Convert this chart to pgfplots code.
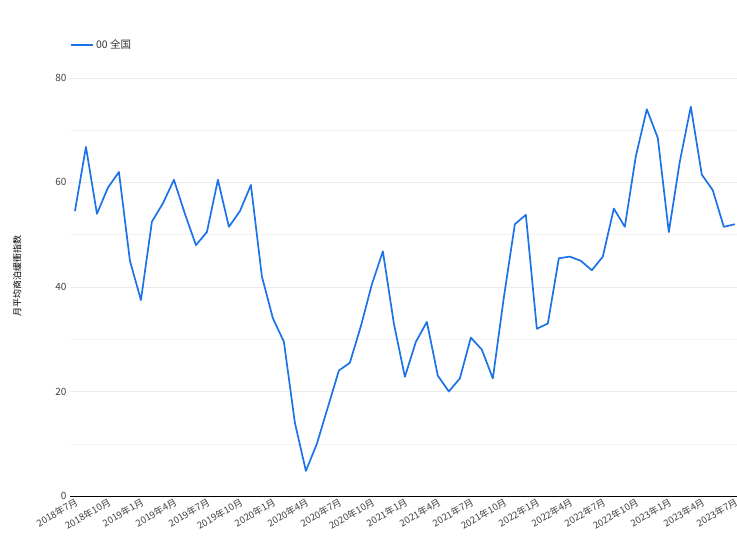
\documentclass[border=0pt]{standalone}
\usepackage{pgfplots}
\pgfplotsset{compat=1.18}
\usepackage{fontspec}
\setmainfont{Noto Sans CJK SC}
\begin{document}
\begin{tikzpicture}
\begin{axis}[
  width=667pt, height=439pt, scale only axis,
  at={(0,0)}, anchor=south west,
  xmin=-0.45, xmax=60.2, ymin=0, ymax=84,
  enlargelimits=false,
  xtick={0,3,...,60},
  xticklabels={2018年7月,2018年10月,2019年1月,2019年4月,2019年7月,2019年10月,2020年1月,2020年4月,2020年7月,2020年10月,2021年1月,2021年4月,2021年7月,2021年10月,2022年1月,2022年4月,2022年7月,2022年10月,2023年1月,2023年4月,2023年7月},
  xticklabel style={rotate=30, anchor=north east, font=\fontsize{9.5}{10}\selectfont, text=black!75, inner sep=1pt},
  ytick={0,20,40,60,80}, minor ytick={10,30,50,70},
  yticklabel style={font=\fontsize{10}{11}\selectfont, text=black!75},
  /pgf/number format/assume math mode=true,
  ymajorgrids, yminorgrids,
  major grid style={black!8}, minor grid style={black!5},
  axis line style={draw=none},
  axis x line*=bottom, x axis line style={draw=black},
  axis y line*=left,
  tick style={draw=none},
  ylabel={月平均商泊缓衝指数}, ylabel style={font=\fontsize{9}{10}\selectfont, at={(-45pt,0.5)}, anchor=south},
  legend style={at={(0,1)}, anchor=west, yshift=12pt, draw=none, font=\fontsize{10.5}{11}\selectfont, text=black!80, inner sep=0pt},
  legend image post style={xscale=1.3},
  legend cell align=left,
]
\addplot[line width=1.7pt, line join=round, color={rgb,255:red,26;green,115;blue,232}] coordinates {
(0,54.5)(1,66.8)(2,54)(3,59)(4,62)(5,45)(6,37.5)(7,52.5)(8,56)(9,60.5)(10,54)(11,48)(12,50.5)(13,60.5)(14,51.5)(15,54.5)(16,59.5)(17,42)(18,34)(19,29.5)(20,14)(21,4.8)(22,10)(23,17)(24,24)(25,25.5)(26,32.5)(27,40.5)(28,46.8)(29,33)(30,22.8)(31,29.5)(32,33.3)(33,23)(34,20)(35,22.5)(36,30.3)(37,28)(38,22.5)(39,38)(40,52)(41,53.8)(42,32)(43,33)(44,45.5)(45,45.8)(46,45)(47,43.2)(48,45.8)(49,55)(50,51.5)(51,65)(52,74)(53,68.5)(54,50.5)(55,64)(56,74.5)(57,61.5)(58,58.5)(59,51.5)(60,52)
};
\addlegendentry{00 全国}
\end{axis}
\pgfresetboundingbox
\path (-70pt,-52pt) rectangle (667pt,496pt);
\end{tikzpicture}
\end{document}
